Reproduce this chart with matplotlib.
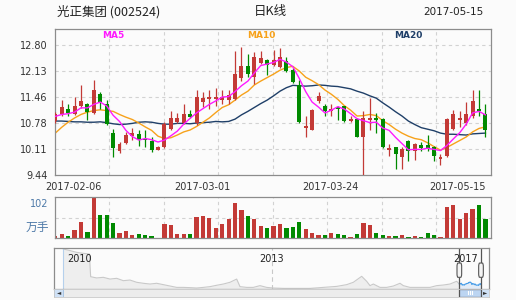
import matplotlib
matplotlib.use('Agg')
import matplotlib.pyplot as plt
from matplotlib.patches import Rectangle, FancyBboxPatch
import numpy as np

# ---------------- data ----------------
# daily candles, 68 trading days up to 2017-05-15
open_ = [10.83, 11.00, 11.14, 11.02, 11.21, 11.26, 11.04, 11.52, 11.26, 10.52,
         10.07, 10.26, 10.45, 10.50, 10.36, 10.31, 10.09, 10.15, 10.63, 10.80,
         10.79, 11.02, 10.78, 11.32, 11.41, 11.40, 11.36, 11.38, 11.40, 11.95,
         12.24, 11.96, 12.33, 12.40, 12.27, 12.23, 12.37, 12.15, 11.75, 10.65,
         10.61, 11.34, 11.21, 11.09, 11.19, 11.21, 10.83, 10.89, 10.43, 10.86,
         10.92, 10.89, 10.08, 10.15, 9.90, 10.31, 10.07, 10.22, 10.21, 10.17,
         9.85, 9.94, 10.63, 10.87, 10.78, 10.95, 11.15, 11.02]
high = [11.06, 11.36, 11.26, 11.45, 11.75, 11.30, 11.90, 11.58, 11.36, 10.63,
        10.28, 10.54, 10.65, 10.60, 10.61, 10.41, 10.20, 10.80, 11.10, 11.03,
        11.26, 11.12, 11.62, 11.58, 11.62, 11.69, 11.64, 11.62, 12.64, 12.74,
        12.57, 12.61, 12.64, 12.44, 12.65, 12.71, 12.48, 12.21, 11.88, 10.95,
        11.14, 11.58, 11.26, 11.26, 11.23, 11.23, 10.97, 10.91, 11.10, 11.42,
        11.05, 10.91, 10.23, 10.17, 10.15, 10.33, 10.26, 10.28, 10.48, 10.20,
        9.98, 10.91, 11.12, 11.10, 11.32, 11.64, 11.64, 11.28]
low = [10.77, 10.95, 10.95, 10.98, 11.17, 10.86, 11.02, 11.15, 10.74, 9.90,
       10.00, 10.25, 10.33, 10.20, 10.15, 10.03, 10.08, 10.13, 10.60, 10.78,
       10.76, 10.91, 10.74, 11.19, 11.15, 11.21, 11.26, 11.26, 11.38, 11.86,
       11.96, 11.79, 12.31, 12.01, 12.24, 12.21, 12.09, 11.82, 10.78, 10.43,
       10.60, 11.29, 10.95, 10.95, 10.86, 10.80, 10.80, 10.43, 9.44, 10.60,
       10.51, 10.14, 9.93, 9.59, 9.60, 9.81, 9.83, 10.05, 10.06, 9.81,
       9.71, 9.90, 10.60, 10.67, 10.74, 10.91, 10.95, 10.43]
close = [11.02, 11.19, 11.05, 11.23, 11.34, 11.06, 11.64, 11.32, 10.76, 10.14,
         10.24, 10.47, 10.52, 10.33, 10.34, 10.09, 10.17, 10.75, 10.91, 10.91,
         11.02, 10.93, 11.45, 11.43, 11.46, 11.46, 11.46, 11.51, 12.05, 12.24,
         12.05, 12.48, 12.46, 12.28, 12.41, 12.49, 12.12, 11.84, 10.80, 10.70,
         11.12, 11.48, 11.09, 11.15, 11.15, 10.83, 10.89, 10.43, 10.90, 10.91,
         10.85, 10.16, 10.13, 9.99, 10.10, 10.05, 10.24, 10.14, 10.12, 9.94,
         9.90, 10.89, 11.02, 10.91, 11.02, 11.34, 11.10, 10.60]
# volume, 万手
volume = [5.9, 10.9, 5.9, 21.0, 41.2, 16.0, 101.6, 58.8, 58.8, 38.6,
          13.4, 18.5, 8.4, 10.9, 8.4, 5.9, 1.7, 36.1, 33.6, 10.9,
          10.9, 10.9, 54.6, 56.3, 51.2, 26.0, 36.1, 48.7, 89.0, 71.4,
          56.3, 48.7, 31.1, 26.0, 31.1, 36.1, 26.0, 28.6, 41.2, 23.5,
          13.4, 8.4, 8.4, 13.4, 10.9, 8.4, 3.4, 10.9, 38.6, 33.6,
          13.4, 8.4, 5.9, 5.9, 8.4, 3.4, 5.9, 3.4, 13.4, 8.4,
          3.4, 79.0, 84.0, 48.7, 63.8, 73.9, 84.0, 48.7]
# moving averages as shown on the chart
ma5 = [10.95, 11.00, 11.02, 11.06, 11.17, 11.17, 11.26, 11.32, 11.22, 10.98,
       10.82, 10.59, 10.43, 10.34, 10.38, 10.35, 10.29, 10.34, 10.45, 10.57,
       10.75, 10.90, 11.04, 11.15, 11.26, 11.35, 11.45, 11.46, 11.59, 11.74,
       11.86, 12.07, 12.26, 12.30, 12.34, 12.42, 12.35, 12.23, 11.93, 11.59,
       11.32, 11.19, 11.04, 11.11, 11.20, 11.14, 11.02, 10.89, 10.84, 10.79,
       10.80, 10.65, 10.59, 10.41, 10.25, 10.09, 10.10, 10.10, 10.13, 10.10,
       10.07, 10.20, 10.37, 10.53, 10.75, 11.04, 11.08, 10.99]
ma10 = [10.52, 10.67, 10.80, 10.91, 11.00, 11.06, 11.10, 11.12, 11.10, 11.08,
        11.00, 10.93, 10.87, 10.78, 10.68, 10.59, 10.44, 10.38, 10.40, 10.47,
        10.55, 10.60, 10.69, 10.80, 10.91, 11.05, 11.18, 11.25, 11.37, 11.50,
        11.60, 11.76, 11.86, 11.95, 12.04, 12.14, 12.21, 12.24, 12.12, 11.96,
        11.87, 11.77, 11.63, 11.52, 11.39, 11.23, 11.11, 10.96, 10.97, 11.00,
        10.97, 10.84, 10.74, 10.62, 10.52, 10.44, 10.38, 10.35, 10.27, 10.17,
        10.08, 10.15, 10.24, 10.33, 10.42, 10.55, 10.64, 10.68]
ma20 = [10.83, 10.83, 10.82, 10.81, 10.81, 10.80, 10.80, 10.81, 10.79, 10.76,
        10.74, 10.75, 10.77, 10.80, 10.81, 10.80, 10.77, 10.75, 10.75, 10.77,
        10.77, 10.76, 10.78, 10.79, 10.80, 10.82, 10.81, 10.82, 10.88, 10.99,
        11.08, 11.18, 11.28, 11.37, 11.48, 11.60, 11.69, 11.75, 11.74, 11.73,
        11.74, 11.76, 11.75, 11.73, 11.72, 11.69, 11.66, 11.60, 11.55, 11.48,
        11.42, 11.30, 11.19, 11.07, 10.96, 10.83, 10.74, 10.66, 10.62, 10.58,
        10.52, 10.49, 10.49, 10.48, 10.47, 10.50, 10.51, 10.52]

price_ticks = [9.44, 10.11, 10.78, 11.46, 12.13, 12.80]
date_labels = ['2017-02-06', '2017-03-01', '2017-03-24', '2017-05-15']
date_pos = [2.8, 22.9, 42.8, 62.7]

# long history for the navigator strip (trading day index, price)
nav_day = [40, 60, 80, 100, 118, 122, 140, 160, 180, 200, 220, 240, 260, 280,
           300, 320, 340, 360, 380, 400, 420, 440, 460, 480, 500, 520, 540,
           560, 570, 590, 610, 630, 650, 670, 700, 740, 780, 820, 860, 890,
           910, 935, 950, 960, 970, 990, 1010, 1030, 1050, 1060, 1080, 1110,
           1140, 1160, 1180, 1200, 1220, 1228]
nav_price = [39.2, 37.9, 36.5, 35.7, 35.2, 16.9, 15.9, 16.4, 15.0, 15.6, 13.7,
             14.2, 12.4, 11.6, 11.0, 11.6, 10.5, 9.4, 8.3, 8.3, 8.1, 7.8, 8.3,
             8.9, 10.0, 11.0, 12.4, 15.0, 8.9, 8.3, 8.3, 9.7, 8.3, 7.8, 7.5,
             7.5, 7.5, 8.3, 9.1, 10.5, 12.4, 17.2, 13.2, 9.7, 11.0, 8.3, 8.3,
             9.4, 11.6, 9.7, 8.3, 8.3, 8.3, 9.7, 10.2, 11.0, 13.2, 11.0]
nav_years = ['2010', '2013', '2017']
nav_year_pos = [90, 666, 1248]

# ---------------- style ----------------
RED = '#c33a36'
GREEN = '#008a00'
GRID = '#d2d2d2'
EDGE = '#8c8c8c'
BG = '#fbfbfb'
CJK = ['Noto Sans CJK SC', 'DejaVu Sans']
plt.rcParams['font.family'] = ['DejaVu Sans', 'Noto Sans CJK SC']

open_ = np.array(open_); close = np.array(close)
high = np.array(high); low = np.array(low)
x = np.arange(len(close))
colors = np.where(close >= open_, RED, GREEN)

fig = plt.figure(figsize=(5.16, 3.0), dpi=100, facecolor=BG)
W, H = 516.0, 300.0

def box(ax):
    for s in ax.spines.values():
        s.set_color(EDGE)
        s.set_linewidth(0.9)
    ax.set_facecolor(BG)

# ---------------- price panel ----------------
ax = fig.add_axes([54.5/W, 1-175/H, 436.2/W, 146.3/H])
box(ax)
ax.set_xlim(-0.125, 67.82)
ax.set_ylim(9.44, 13.21)
xl = ax.get_xlim()
vgrid = [xl[0] + k*(xl[1]-xl[0])/8 for k in range(1, 8)]
for g in vgrid:
    ax.axvline(g, color=GRID, lw=0.8, ls=(0, (3, 3)), zorder=0)
for p in price_ticks[1:]:
    ax.axhline(p, color=GRID, lw=0.8, ls=(0, (3, 3)), zorder=0)

ax.plot(x, ma20, color='#1f3f68', lw=1.0, zorder=2)
ax.plot(x, ma10, color='#f7a21b', lw=1.0, zorder=2)
ax.vlines(x, low, high, colors=colors, lw=0.9, zorder=3)
ax.bar(x, np.maximum(np.abs(close-open_), 0.015), bottom=np.minimum(open_, close),
       width=0.62, color=colors, lw=0, zorder=4)
ax.plot(x, ma5, color='#ff1aff', lw=1.0, zorder=5)

ax.set_yticks(price_ticks)
ax.set_yticklabels(['%.2f' % p for p in price_ticks], fontsize=7, color='#333333')
ax.set_xticks(date_pos)
ax.set_xticklabels(date_labels, fontsize=7, color='#333333')
ax.tick_params(length=0, pad=5)

# ---------------- volume panel ----------------
av = fig.add_axes([54.5/W, 1-238.3/H, 436.2/W, 41.6/H])
box(av)
av.set_xlim(xl)
av.set_ylim(0, 105)
for g in vgrid:
    av.axvline(g, color=GRID, lw=0.8, ls=(0, (3, 3)), zorder=0)
av.axhline(52.5, color=GRID, lw=0.8, ls=(0, (3, 3)), zorder=0)
av.bar(x, volume, width=0.66, color=colors, lw=0, zorder=2)
av.set_xticks([]); av.set_yticks([])
av.text(-0.015, 0.83, '%d' % round(max(volume)), transform=av.transAxes,
        ha='right', va='center', fontsize=7, color='#4d79a8')
av.text(-0.012, 0.25, '万手', transform=av.transAxes, ha='right', va='center',
        fontsize=8.5, color='#4d79a8', family=CJK)

# ---------------- navigator ----------------
an = fig.add_axes([54/W, 1-289/H, 435/W, 41/H])
box(an)
an.set_xlim(12, 1317)
an.set_ylim(7, 40)
an.fill_between(nav_day, 7, nav_price, color='#eeeeee', lw=0)
an.plot(nav_day, nav_price, color='#c9c9c9', lw=0.8)
# current window shown in blue
win_x = np.linspace(1228, 1293, len(close))
an.fill_between(win_x, 7, close, color='#e3ecf7', lw=0)
an.plot(win_x, close, color='#4a9ee8', lw=0.8)
an.axvline(nav_day[0], color='#b5d0ec', lw=0.8)
an.axvline(nav_year_pos[1] - 1, color='#c8c8c8', lw=0.8, ls=(0, (4, 3)))
for lab, p in zip(nav_years, nav_year_pos):
    an.text(p, 31, lab, ha='center', va='center', fontsize=7, color='#222222')
for hx in (1228, 1293):
    an.axvline(hx, color='#555555', lw=0.9)
    an.add_patch(FancyBboxPatch((hx-7, 16.4), 14, 11.5,
                                boxstyle='round,pad=0,rounding_size=3',
                                fc='#f4f4f4', ec='#555555', lw=0.8, zorder=5))
an.set_xticks([]); an.set_yticks([])

# ---------------- scrollbar ----------------
asb = fig.add_axes([54/W, 1-296.7/H, 435/W, 7.7/H])
asb.set_xlim(12, 1317)
asb.set_ylim(0, 1)
asb.set_facecolor('#ececec')
for s in asb.spines.values():
    s.set_color('#c8c8c8'); s.set_linewidth(0.6)
asb.add_patch(Rectangle((12, 0), 28, 1, fc='#cfe1f6', ec='#9fbfe0', lw=0.6))
asb.add_patch(Rectangle((1293, 0), 24, 1, fc='#cfe1f6', ec='#9fbfe0', lw=0.6))
asb.add_patch(Rectangle((1228, 0), 65, 1, fc='#bcd5f2', ec='#555555', lw=0.9))
asb.text(26, 0.5, '◄', ha='center', va='center', fontsize=4, color='#333333')
asb.text(1305, 0.5, '►', ha='center', va='center', fontsize=4, color='#333333')
for gx in (1254, 1260, 1266):
    asb.plot([gx, gx], [0.3, 0.7], color='white', lw=0.8)
asb.set_xticks([]); asb.set_yticks([])

# ---------------- header ----------------
fig.text(57/W, 1-12/H, '光正集团 (002524)', fontsize=9, va='center',
         color='#222222', family=CJK)
fig.text(270.5/W, 1-12/H, '日K线', fontsize=9, ha='center', va='center',
         color='#222222', family=CJK)
fig.text(484/W, 1-12/H, '2017-05-15', fontsize=7.5, ha='right', va='center',
         color='#222222')
fig.text(113/W, 1-36/H, 'MA5', fontsize=6.5, fontweight='bold', ha='center',
         va='center', color='#ff1aff')
fig.text(261/W, 1-36/H, 'MA10', fontsize=6.5, fontweight='bold', ha='center',
         va='center', color='#f7a21b')
fig.text(408.5/W, 1-36/H, 'MA20', fontsize=6.5, fontweight='bold', ha='center',
         va='center', color='#1f3f68')

fig.savefig('out.png', dpi=100, facecolor=BG)
